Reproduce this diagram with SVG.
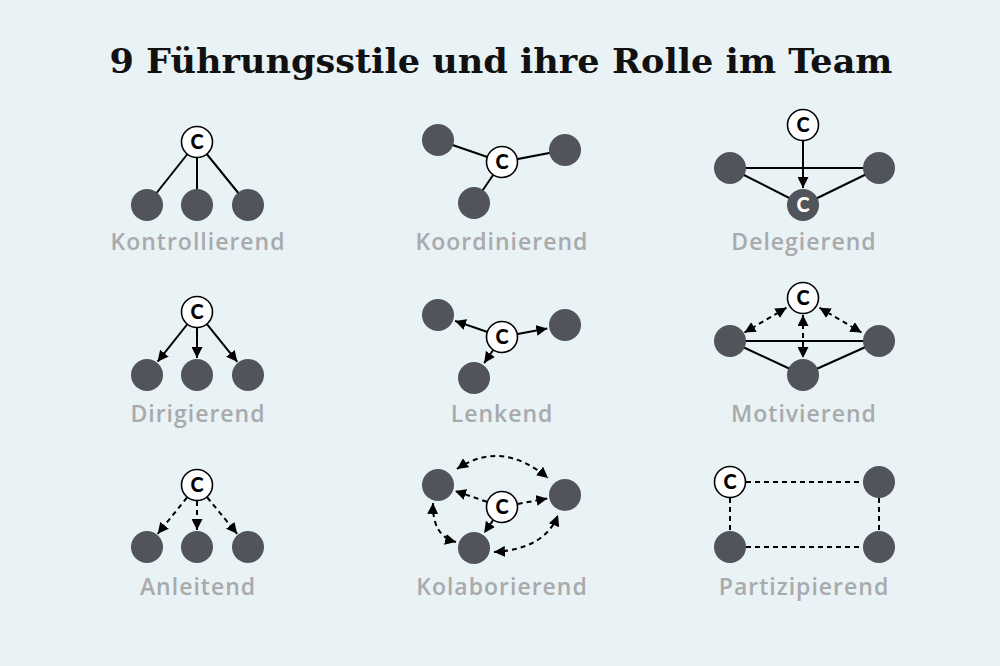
<svg xmlns="http://www.w3.org/2000/svg" width="1000" height="666" viewBox="0 0 1000 666">
<defs>
<marker id="ah" viewBox="0 0 10 10" refX="10" refY="5" markerWidth="11" markerHeight="11" markerUnits="userSpaceOnUse" orient="auto-start-reverse">
<path d="M0,0 L10,5 L0,10 z" fill="#000"/>
</marker>
<style>
.bg{fill:#e9f2f5}
.t{font-family:"DejaVu Serif","Liberation Serif",serif;font-weight:bold;font-size:34px;fill:#111;text-anchor:middle}
.lbl{font-family:"Open Sans","Liberation Sans",sans-serif;font-weight:600;font-size:23px;letter-spacing:1px;fill:#a8aaac;text-anchor:middle}
.c{fill:#fff;stroke:#000;stroke-width:1.6}
.n{fill:#51555b}
.ct{font-family:Lato,"Liberation Sans",sans-serif;font-weight:900;font-size:20px;fill:#000;text-anchor:middle}
.ctw{font-family:Lato,"Liberation Sans",sans-serif;font-weight:900;font-size:20px;fill:#fff;text-anchor:middle}
.l{stroke:#000;stroke-width:2;fill:none}
.d{stroke:#000;stroke-width:2;fill:none;stroke-dasharray:5 4}
.a{marker-end:url(#ah)}
.aa{marker-start:url(#ah);marker-end:url(#ah)}
</style>
</defs>
<rect class="bg" x="0" y="0" width="1000" height="666"/>
<text class="t" x="501" y="73" textLength="783" lengthAdjust="spacingAndGlyphs">9 Führungsstile und ihre Rolle im Team</text>

<g id="connectors">
<!-- Kontrollierend -->
<line class="l" x1="197" y1="142" x2="147" y2="205"/>
<line class="l" x1="197" y1="142" x2="197" y2="205"/>
<line class="l" x1="197" y1="142" x2="248" y2="205"/>
<!-- Koordinierend -->
<line class="l" x1="502" y1="162" x2="438" y2="140"/>
<line class="l" x1="502" y1="162" x2="565" y2="150"/>
<line class="l" x1="502" y1="162" x2="474" y2="203"/>
<!-- Delegierend -->
<line class="l" x1="730" y1="168" x2="879" y2="168"/>
<line class="l" x1="730" y1="168" x2="803" y2="205"/>
<line class="l" x1="879" y1="168" x2="803" y2="205"/>
<line class="l a" x1="803" y1="141" x2="803" y2="188"/>
<!-- Dirigierend -->
<line class="l a" x1="187.1" y1="324.5" x2="157.6" y2="361.7"/>
<line class="l a" x1="197" y1="328" x2="197" y2="358"/>
<line class="l a" x1="207.1" y1="324.4" x2="237.3" y2="361.8"/>
<!-- Lenkend -->
<line class="l a" x1="486.9" y1="331.8" x2="455" y2="320.9"/>
<line class="l a" x1="517.7" y1="334" x2="547.3" y2="328.4"/>
<line class="l a" x1="493" y1="350.2" x2="484.2" y2="363.1"/>
<!-- Motivierend -->
<line class="l" x1="730" y1="341" x2="879" y2="341"/>
<line class="l" x1="730" y1="341" x2="803" y2="375"/>
<line class="l" x1="879" y1="341" x2="803" y2="375"/>
<line class="d aa" x1="786.5" y1="307.7" x2="744.5" y2="332.5"/>
<line class="d aa" x1="819.5" y1="307.7" x2="861.5" y2="332.5"/>
<line class="d aa" x1="803" y1="315" x2="803" y2="358"/>
<!-- Anleitend -->
<line class="d a" x1="187" y1="497.5" x2="157.7" y2="533.8"/>
<line class="d a" x1="197" y1="501" x2="197" y2="530"/>
<line class="d a" x1="207.2" y1="497.4" x2="237.2" y2="533.8"/>
<!-- Kolaborierend -->
<line class="d a" x1="486.9" y1="501.8" x2="455" y2="490.9"/>
<line class="d a" x1="517.7" y1="504" x2="547.3" y2="498.4"/>
<line class="d a" x1="493" y1="520.2" x2="484.2" y2="533.1"/>
<path class="d aa" d="M457,469 Q501,439 548,478"/>
<path class="d aa" d="M433,503 Q432,536 456,542"/>
<path class="d aa" d="M494,552 Q545,549 558,515"/>
<!-- Partizipierend -->
<line class="d" x1="746" y1="482" x2="863" y2="482"/>
<line class="d" x1="730" y1="498" x2="730" y2="531"/>
<line class="d" x1="879" y1="498" x2="879" y2="531"/>
<line class="d" x1="746" y1="547" x2="863" y2="547"/>
</g>

<g id="kontrollierend">
<circle class="n" cx="147" cy="205" r="16"/><circle class="n" cx="197" cy="205" r="16"/><circle class="n" cx="248" cy="205" r="16"/>
<circle class="c" cx="197" cy="142" r="15.5"/><text class="ct" x="197" y="149">C</text>
<text class="lbl" x="198" y="250">Kontrollierend</text>
</g>
<g id="koordinierend">
<circle class="n" cx="438" cy="140" r="16"/><circle class="n" cx="565" cy="150" r="16"/><circle class="n" cx="474" cy="203" r="16"/>
<circle class="c" cx="502" cy="162" r="15.5"/><text class="ct" x="502" y="169">C</text>
<text class="lbl" x="502" y="250">Koordinierend</text>
</g>
<g id="delegierend">
<circle class="n" cx="730" cy="168" r="16"/><circle class="n" cx="879" cy="168" r="16"/>
<circle class="n" cx="803" cy="205" r="16"/><text class="ctw" x="803" y="212">C</text>
<circle class="c" cx="803" cy="125" r="15.5"/><text class="ct" x="803" y="132">C</text>
<text class="lbl" x="804" y="250">Delegierend</text>
</g>
<g id="dirigierend">
<circle class="n" cx="147" cy="375" r="16"/><circle class="n" cx="197" cy="375" r="16"/><circle class="n" cx="248" cy="375" r="16"/>
<circle class="c" cx="197" cy="312" r="15.5"/><text class="ct" x="197" y="319">C</text>
<text class="lbl" x="198" y="422">Dirigierend</text>
</g>
<g id="lenkend">
<circle class="n" cx="438" cy="315" r="16"/><circle class="n" cx="565" cy="325" r="16"/><circle class="n" cx="474" cy="378" r="16"/>
<circle class="c" cx="502" cy="337" r="15.5"/><text class="ct" x="502" y="344">C</text>
<text class="lbl" x="502" y="422">Lenkend</text>
</g>
<g id="motivierend">
<circle class="n" cx="730" cy="341" r="16"/><circle class="n" cx="879" cy="341" r="16"/><circle class="n" cx="803" cy="375" r="16"/>
<circle class="c" cx="803" cy="298" r="15.5"/><text class="ct" x="803" y="305">C</text>
<text class="lbl" x="804" y="422">Motivierend</text>
</g>
<g id="anleitend">
<circle class="n" cx="147" cy="547" r="16"/><circle class="n" cx="197" cy="547" r="16"/><circle class="n" cx="248" cy="547" r="16"/>
<circle class="c" cx="197" cy="485" r="15.5"/><text class="ct" x="197" y="492">C</text>
<text class="lbl" x="198" y="595">Anleitend</text>
</g>
<g id="kolaborierend">
<circle class="n" cx="438" cy="485" r="16"/><circle class="n" cx="565" cy="495" r="16"/><circle class="n" cx="474" cy="548" r="16"/>
<circle class="c" cx="502" cy="507" r="15.5"/><text class="ct" x="502" y="514">C</text>
<text class="lbl" x="502" y="595">Kolaborierend</text>
</g>
<g id="partizipierend">
<circle class="n" cx="879" cy="482" r="16"/><circle class="n" cx="730" cy="547" r="16"/><circle class="n" cx="879" cy="547" r="16"/>
<circle class="c" cx="730" cy="482" r="15.5"/><text class="ct" x="730" y="489">C</text>
<text class="lbl" x="804" y="595">Partizipierend</text>
</g>
</svg>
